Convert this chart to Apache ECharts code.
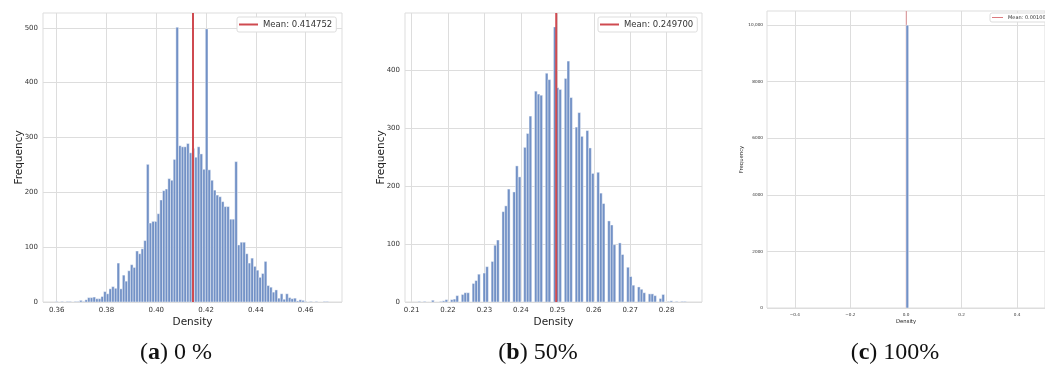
<!DOCTYPE html>
<html><head><meta charset="utf-8">
<script src="https://cdn.jsdelivr.net/npm/echarts@6/dist/echarts.min.js"></script>
<style>html,body{margin:0;padding:0;background:#fff}#c{width:1045px;height:376px}</style>
</head><body><div id="c"></div>
<script>
// ---- Panel (a) 0 % ----
const aBinStart = 0.3595;
const aBinWidth = 0.001075;
const aCounts = [1,0,1,0,1,1,0,1,1,3, 1,4,8,8,9,6,6,10,19,15, 24,28,25,71,24,49,38,57,68,63,
  93,88,97,112,251,144,147,147,161,186, 203,206,225,222,260,501,285,283,283,289,
  272,280,264,283,270,242,498,241,222,204, 195,192,183,174,174,151,151,256,104,109,
  109,88,71,80,65,58,45,52,74,30, 27,18,22,7,15,5,15,8,6,7, 2,4,3,1,0,1,0,1,0,0, 1,1];
const aMean = 0.414752;
const aXTicks = [0.36,0.38,0.40,0.42,0.44,0.46];
const aYTicks = [0,100,200,300,400,500];

// ---- Panel (b) 50% ----
const bBinStart = 0.21175;
const bBinWidth = 0.0007437;
const bCounts = [1,0,1,0,0,3,0,0,1,2, 4,0,4,5,11,0,13,16,16,0, 32,37,48,0,50,61,0,70,98,107,
  0,156,166,195,0,190,235,216,0,267, 291,321,0,364,359,357,0,395,384,0,
  475,370,367,0,386,416,353,0,302,327, 286,0,296,266,222,0,224,188,170,0,
  140,133,99,0,102,82,0,60,44,29, 0,26,22,16,0,14,14,11,0,6, 13,0,1,2,0,1,0,1,1];
const bMean = 0.249700;
const bXTicks = [0.21,0.22,0.23,0.24,0.25,0.26,0.27,0.28];
const bYTicks = [0,100,200,300,400];

// ---- Panel (c) 100% ----
const cBinStart = 0.0;
const cBinWidth = 0.0095;
const cCounts = [10000];
const cMean = 0.001000;
const cXTicks = [-0.4,-0.2,0.0,0.2,0.4];
const cYTicks = [0,2000,4000,6000,8000,10000];

const captions = [['a',' 0 %'],['b',' 50%'],['c',' 100%']];

const FONT = 'DejaVu Sans';
const BAR = '#7291c6';
const RED = '#cf4a50';

function binsData(start, w, counts){
  return counts.map((c,i)=>[start+i*w, start+(i+1)*w, c]);
}
function renderHist(params, api){
  const p0 = api.coord([api.value(0), api.value(2)]);
  const p1 = api.coord([api.value(1), 0]);
  return {type:'rect', shape:{x:p0[0], y:p0[1], width:p1[0]-p0[0], height:p1[1]-p0[1]},
    style:{fill:BAR, stroke:'rgba(255,255,255,0.85)', lineWidth:0.5}};
}
function xAx(i,min,max,ticks,fmt,fs,nameFs,nameGap,margin){
  return {type:'value', gridIndex:i, min, max, name:'Density', nameLocation:'middle', nameGap,
    nameMoveOverlap:false,
    nameTextStyle:{fontFamily:FONT,fontSize:nameFs,color:'#222'},
    axisLine:{show:false}, axisTick:{show:false, customValues:ticks},
    axisLabel:{customValues:ticks, formatter:fmt, fontFamily:FONT, fontSize:fs, color:'#333', margin},
    splitLine:{show:true, lineStyle:{color:'#dddddd', width:1}}};
}
function yAx(i,max,ticks,fmt,fs,nameFs,nameGap,margin){
  return {type:'value', gridIndex:i, min:0, max, name:'Frequency', nameLocation:'middle', nameGap,
    nameMoveOverlap:false,
    nameTextStyle:{fontFamily:FONT,fontSize:nameFs,color:'#222'},
    axisLine:{show:false}, axisTick:{show:false, customValues:ticks},
    axisLabel:{customValues:ticks, formatter:fmt, fontFamily:FONT, fontSize:fs, color:'#333', margin},
    splitLine:{show:true, lineStyle:{color:'#dddddd', width:1}}};
}
function legendCfg(name,left,top,fs,iw,pad){
  return {data:[name], left, top, icon:'rect', itemWidth:iw, itemHeight:fs>6?2:1, itemGap:0,
    padding:pad, borderColor:'#dddddd', borderWidth:1, borderRadius:2, backgroundColor:'#fff',
    selectedMode:false, textStyle:{fontFamily:FONT, fontSize:fs, color:'#333'}};
}
const aName = 'Mean: ' + aMean.toFixed(6);
const bName = 'Mean: ' + bMean.toFixed(6);
const cName = 'Mean: ' + cMean.toFixed(6);

function caption(i, x){
  return {type:'text', x, y:353, style:{text:'({b|'+captions[i][0]+'})'+captions[i][1],
    textAlign:'center', textVerticalAlign:'middle', font:'24px "Liberation Serif"', fill:'#111',
    rich:{b:{fontWeight:'bold', fontFamily:'Liberation Serif', fontSize:24}}}};
}

const chart = echarts.init(document.getElementById('c'), null, {renderer:'canvas'});
chart.setOption({
  animation:false,
  backgroundColor:'#fff',
  grid:[
    {left:43, top:13, width:299, height:289, show:true, borderColor:'#dddddd', borderWidth:1},
    {left:405, top:13, width:297, height:289, show:true, borderColor:'#dddddd', borderWidth:1},
    {left:767, top:11, width:284, height:297, show:true, borderColor:'#dddddd', borderWidth:1}
  ],
  xAxis:[
    xAx(0,0.3545,0.4746,aXTicks,v=>v.toFixed(2),7,10.5,15,5),
    xAx(1,0.2082,0.2897,bXTicks,v=>v.toFixed(2),7,10.5,15,5),
    xAx(2,-0.5,0.5,cXTicks,v=>(v<0?'\u2212':'')+Math.abs(v).toFixed(1),4.2,5.3,11.5,5)
  ],
  yAxis:[
    yAx(0,527,aYTicks,v=>String(v),7,10.5,18,5),
    yAx(1,499,bYTicks,v=>String(v),7,10.5,18,5),
    yAx(2,10500,cYTicks,v=>v===10000?'10,000':String(v),4.2,5.3,23,4)
  ],
  legend:[
    legendCfg(aName,237,17,8.5,19,[3,4,3,2]),
    legendCfg(bName,598,17,8.5,19,[3,4,3,2]),
    legendCfg(cName,990,13,5,11,[2,3,2,2])
  ],
  series:[
    {type:'custom', name:'a', xAxisIndex:0, yAxisIndex:0, renderItem:renderHist, encode:{x:[0,1],y:2}, data:binsData(aBinStart,aBinWidth,aCounts), clip:true},
    {type:'custom', name:'b', xAxisIndex:1, yAxisIndex:1, renderItem:renderHist, encode:{x:[0,1],y:2}, data:binsData(bBinStart,bBinWidth,bCounts), clip:true},
    {type:'custom', name:'c', xAxisIndex:2, yAxisIndex:2, renderItem:renderHist, encode:{x:[0,1],y:2}, data:binsData(cBinStart,cBinWidth,cCounts), clip:true},
    {type:'line', name:aName, xAxisIndex:0, yAxisIndex:0, data:[[aMean,0],[aMean,527]], showSymbol:false, symbol:'none', color:RED, lineStyle:{width:2,color:RED}, z:5},
    {type:'line', name:bName, xAxisIndex:1, yAxisIndex:1, data:[[bMean,0],[bMean,499]], showSymbol:false, symbol:'none', color:RED, lineStyle:{width:2,color:RED}, z:5},
    {type:'line', name:cName, xAxisIndex:2, yAxisIndex:2, data:[[cMean,0],[cMean,10500]], showSymbol:false, symbol:'none', color:'#db7a7f', lineStyle:{width:0.8,color:'#db7a7f'}, z:1}
  ],
  graphic:[caption(0,176), caption(1,538), caption(2,895)]
});
</script></body></html>
